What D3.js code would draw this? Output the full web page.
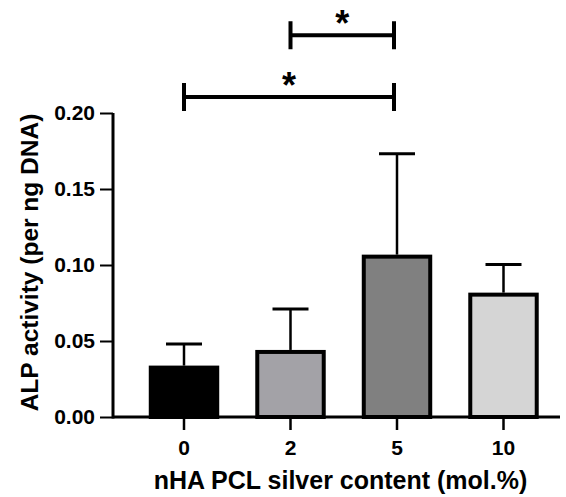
<!DOCTYPE html>
<html>
<head>
<meta charset="utf-8">
<script src="https://cdn.jsdelivr.net/npm/d3@7"></script>
<style>
  body { margin: 0; background: #fff; }
  svg { display: block; font-family: "Liberation Sans", Arial, sans-serif; font-weight: bold; }
</style>
</head>
<body>
<svg width="566" height="497"></svg>
<script>
// data
const categories = ["0", "2", "5", "10"];
const means = [0.0325, 0.0428, 0.1055, 0.0805];
const upperErr = [0.048, 0.0711, 0.1732, 0.1003]; // top of error bar
const fills = ["#000000", "#a3a2a7", "#808080", "#d5d5d5"];
const yTicks = [0, 0.05, 0.10, 0.15, 0.20];
// significance brackets: [from, to, level]
const comparisons = [["0", "5", 0.2105], ["2", "5", 0.2511]];

const svg = d3.select("svg");

// scales
const x = d3.scaleBand()
    .domain(categories)
    .range([130.75, 556.75])
    .paddingInner(0.376)
    .paddingOuter(0.188);
const y = d3.scaleLinear().domain([0, 0.2]).range([417, 113]);

// bars
svg.append("g")
    .selectAll("rect")
    .data(categories)
    .join("rect")
    .attr("x", d => x(d))
    .attr("y", (d, i) => y(means[i]))
    .attr("width", x.bandwidth())
    .attr("height", (d, i) => y(0) - y(means[i]))
    .attr("fill", (d, i) => fills[i])
    .attr("stroke", "#000")
    .attr("stroke-width", 4);

// error bars (upper only)
const err = svg.append("g").attr("stroke", "#000");
categories.forEach((c, i) => {
    const cx = x(c) + x.bandwidth() / 2;
    err.append("line")
        .attr("x1", cx).attr("x2", cx)
        .attr("y1", y(means[i]) - 2).attr("y2", y(upperErr[i]))
        .attr("stroke-width", 2.5);
    err.append("line")
        .attr("x1", cx - 18).attr("x2", cx + 18)
        .attr("y1", y(upperErr[i])).attr("y2", y(upperErr[i]))
        .attr("stroke-width", 3);
});

// y axis
const yAxis = svg.append("g")
    .attr("transform", "translate(113,0)")
    .call(d3.axisLeft(y).tickValues(yTicks).tickFormat(d3.format(".2f")).tickSize(13).tickPadding(5));
yAxis.select(".domain").attr("stroke-width", 3).attr("d", "M0,113V418.5");
yAxis.selectAll(".tick line").attr("stroke-width", 2);
yAxis.selectAll(".tick text")
    .attr("font-size", 21)
    .attr("font-family", "'Liberation Sans', Arial, sans-serif")
    .attr("font-weight", "bold")
    .attr("fill", "#000");

// x axis
const xAxis = svg.append("g")
    .attr("transform", "translate(0,417)")
    .call(d3.axisBottom(x).tickSize(13).tickPadding(10));
xAxis.select(".domain").attr("stroke-width", 3).attr("d", "M113,0H560");
xAxis.selectAll(".tick line").attr("stroke-width", 2.5);
xAxis.selectAll(".tick text")
    .attr("font-size", 21)
    .attr("font-family", "'Liberation Sans', Arial, sans-serif")
    .attr("font-weight", "bold")
    .attr("fill", "#000");

// axis titles
svg.append("text")
    .attr("x", 340.5)
    .attr("y", 489)
    .attr("text-anchor", "middle")
    .attr("font-size", 25)
    .text("nHA PCL silver content (mol.%)");

svg.append("text")
    .attr("transform", "translate(37.5,262.5) rotate(-90)")
    .attr("text-anchor", "middle")
    .attr("font-size", 24.5)
    .text("ALP activity (per ng DNA)");

// significance brackets
const sig = svg.append("g");
comparisons.forEach(([a, b, lvl]) => {
    const x1 = x(a) + x.bandwidth() / 2;
    const x2 = x(b) + x.bandwidth() / 2 - 3;
    const yy = y(lvl);
    sig.append("path")
        .attr("d", `M${x1},${yy - 14}V${yy + 14}M${x1},${yy}H${x2}M${x2},${yy - 14}V${yy + 14}`)
        .attr("fill", "none")
        .attr("stroke", "#000")
        .attr("stroke-width", 4);
    sig.append("text")
        .attr("x", (x1 + x2) / 2)
        .attr("y", yy + 1)
        .attr("text-anchor", "middle")
        .attr("font-size", 36)
        .text("*");
});
</script>
</body>
</html>
